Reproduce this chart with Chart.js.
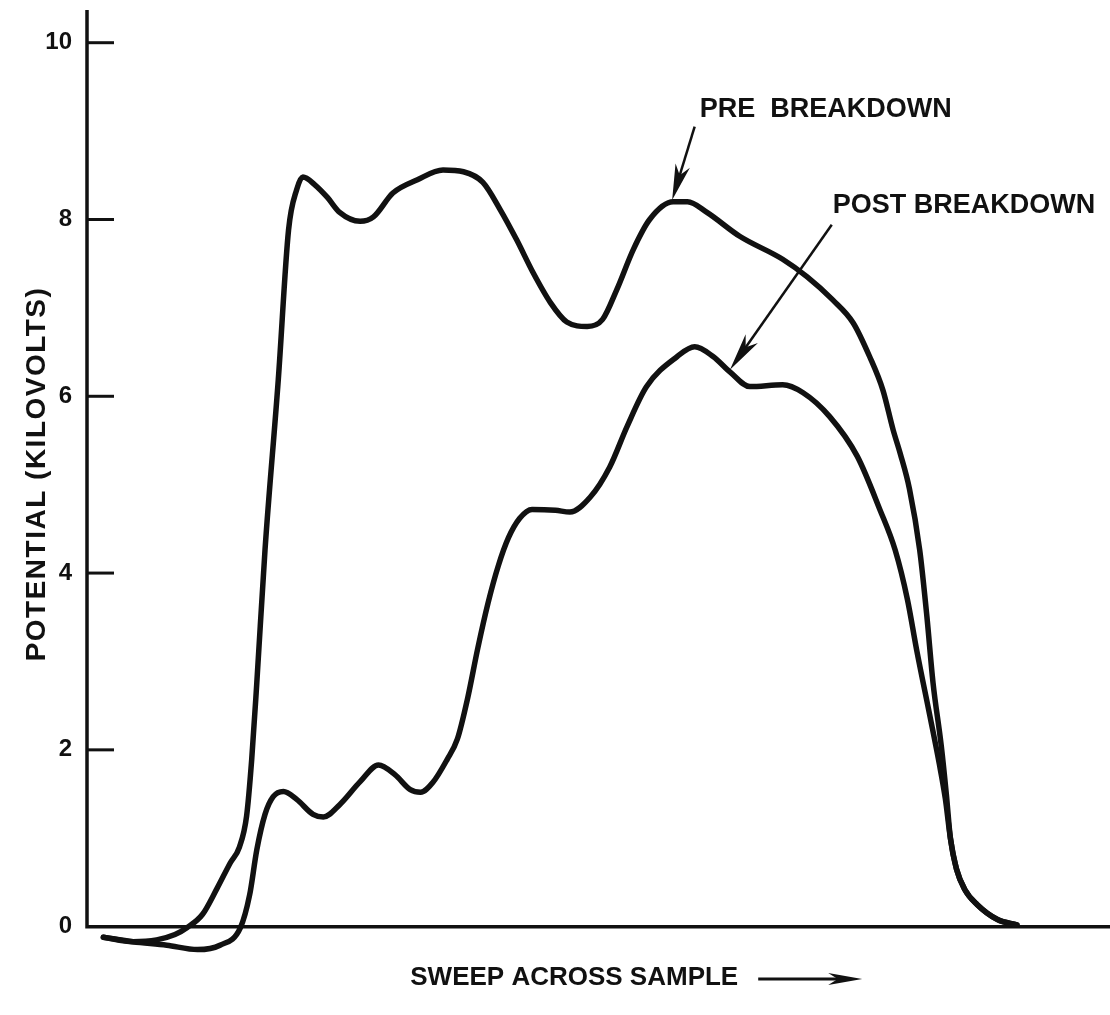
<!DOCTYPE html>
<html>
<head>
<meta charset="utf-8">
<title>Potential sweep across sample</title>
<script src="https://cdn.jsdelivr.net/npm/chart.js@4.4.0/dist/chart.umd.min.js"></script>
<style>
  html, body { margin: 0; padding: 0; background: #fff; }
  #chart { display: block; }
</style>
</head>
<body>
<canvas id="chart" width="1110" height="1015"></canvas>
<script>
// Sweep position (arbitrary units 0-100) against potential in kV
const preX = [1.6, 4.5, 6.8, 8.6, 9.8, 11.3, 12.7, 14.0, 14.9, 15.6, 16.1, 16.6, 17.4, 18.7, 19.7, 20.5, 21.1, 22.3, 23.5, 24.7,
  26.7, 28.0, 29.9, 32.3, 34.8, 36.8, 38.7, 40.4, 42.0, 43.6, 45.3, 46.9, 48.9, 50.4, 51.8, 53.4, 55.0, 57.3, 58.7, 60.6,
  63.8, 68.0, 70.4, 72.9, 74.9, 76.5, 77.8, 78.8, 79.5, 80.4, 81.4, 82.1, 82.7, 83.5, 84.0, 84.4, 85.0, 85.8, 87.0, 89.0, 90.9];
const preY = [-0.12, -0.17, -0.15, -0.09, -0.01, 0.14, 0.43, 0.72, 0.90, 1.25, 1.89, 2.76, 4.26, 6.19, 7.88, 8.34, 8.48, 8.39, 8.25, 8.08,
  7.98, 8.03, 8.30, 8.45, 8.56, 8.54, 8.42, 8.11, 7.77, 7.40, 7.06, 6.84, 6.79, 6.87, 7.21, 7.66, 8.00, 8.20, 8.20, 8.08,
  7.81, 7.55, 7.35, 7.09, 6.83, 6.45, 6.07, 5.62, 5.35, 4.95, 4.26, 3.51, 2.76, 2.05, 1.50, 1.00, 0.65, 0.42, 0.25, 0.08, 0.02];

const postX = [1.6, 4.5, 7.8, 10.8, 13.0, 15.0, 15.9, 16.6, 17.4, 18.2, 19.2, 20.5, 22.1, 23.1, 24.7, 26.7, 28.5, 30.1, 31.6, 32.6,
  33.8, 35.2, 36.2, 37.2, 38.2, 39.2, 40.2, 41.2, 42.3, 43.5, 45.8, 47.2, 49.2, 51.1, 52.8, 54.7, 57.7, 59.4, 61.2, 62.9,
  64.8, 68.0, 70.0, 72.6, 75.3, 77.5, 79.0, 80.2, 81.1, 82.4, 83.3, 83.9, 84.4, 85.0, 85.8, 87.0, 89.0, 90.9];
const postY = [-0.12, -0.17, -0.21, -0.26, -0.21, -0.01, 0.36, 0.87, 1.27, 1.47, 1.53, 1.44, 1.27, 1.24, 1.38, 1.64, 1.83, 1.72, 1.55, 1.52,
  1.63, 1.89, 2.12, 2.58, 3.15, 3.66, 4.08, 4.40, 4.62, 4.72, 4.71, 4.69, 4.86, 5.20, 5.66, 6.11, 6.45, 6.56, 6.45, 6.27,
  6.11, 6.13, 6.04, 5.77, 5.32, 4.72, 4.26, 3.70, 3.13, 2.38, 1.85, 1.45, 1.00, 0.65, 0.42, 0.25, 0.08, 0.02];

const yTicks = [0, 2, 4, 6, 8, 10];

const FONT = '"Liberation Sans", Arial, Helvetica, sans-serif';
const INK = '#111';

function toPoints(xs, ys) {
  return xs.map((x, i) => ({ x: x, y: ys[i] }));
}

// straight shaft with a filled, slightly notched head at (x2, y2)
function drawArrow(ctx, x1, y1, x2, y2, head, half, width) {
  const a = Math.atan2(y2 - y1, x2 - x1);
  const c = Math.cos(a), s = Math.sin(a);
  ctx.lineWidth = width;
  ctx.beginPath();
  ctx.moveTo(x1, y1);
  ctx.lineTo(x2 - c * head * 0.7, y2 - s * head * 0.7);
  ctx.stroke();
  ctx.beginPath();
  ctx.moveTo(x2, y2);
  ctx.lineTo(x2 - c * head - s * half, y2 - s * head + c * half);
  ctx.lineTo(x2 - c * head * 0.72, y2 - s * head * 0.72);
  ctx.lineTo(x2 - c * head + s * half, y2 - s * head - c * half);
  ctx.closePath();
  ctx.fill();
}

const sketchAxes = {
  id: 'sketchAxes',
  beforeDatasetsDraw(chart) {
    const { ctx, chartArea, scales: { y } } = chart;
    const y0 = y.getPixelForValue(0);
    ctx.save();
    ctx.strokeStyle = INK;
    ctx.lineCap = 'butt';
    // axis lines
    ctx.lineWidth = 3.5;
    ctx.beginPath();
    ctx.moveTo(chartArea.left, chartArea.top);
    ctx.lineTo(chartArea.left, y0);
    ctx.lineTo(chartArea.right, y0);
    ctx.stroke();
    // inward tick marks
    ctx.lineWidth = 3;
    yTicks.forEach(v => {
      if (v === 0) return;
      const py = y.getPixelForValue(v);
      ctx.beginPath();
      ctx.moveTo(chartArea.left, py);
      ctx.lineTo(chartArea.left + 27, py);
      ctx.stroke();
    });
    ctx.restore();
  },
  afterDatasetsDraw(chart) {
    const { ctx, chartArea, scales: { x, y } } = chart;
    ctx.save();
    ctx.fillStyle = INK;
    ctx.strokeStyle = INK;
    ctx.font = 'bold 27px ' + FONT;
    ctx.textBaseline = 'middle';
    ctx.textAlign = 'left';

    // curve labels with pointer arrows
    ctx.fillText('PRE  BREAKDOWN', x.getPixelForValue(59.9), y.getPixelForValue(9.24));
    drawArrow(ctx, x.getPixelForValue(59.4), y.getPixelForValue(9.05),
      x.getPixelForValue(57.2), y.getPixelForValue(8.22), 36, 7.5, 2.5);
    ctx.fillText('POST BREAKDOWN', x.getPixelForValue(72.9), y.getPixelForValue(8.16));
    drawArrow(ctx, x.getPixelForValue(72.8), y.getPixelForValue(7.94),
      x.getPixelForValue(62.85), y.getPixelForValue(6.30), 38, 7.5, 2.5);

    // x axis title with direction arrow
    ctx.font = 'bold 26px ' + FONT;
    const tx = x.getPixelForValue(31.6);
    const ty = chartArea.bottom + 16;
    ctx.fillText('SWEEP ACROSS SAMPLE', tx, ty);
    const tw = ctx.measureText('SWEEP ACROSS SAMPLE').width;
    drawArrow(ctx, tx + tw + 20, ty + 1, tx + tw + 124, ty + 1, 34, 6, 3);

    // y axis title
    ctx.translate(chartArea.left - 50, (chartArea.top + chartArea.bottom) / 2 - 12);
    ctx.rotate(-Math.PI / 2);
    ctx.textAlign = 'center';
    ctx.font = 'bold 28px ' + FONT;
    ctx.letterSpacing = '1.5px';
    ctx.fillText('POTENTIAL (KILOVOLTS)', 0, 0);
    ctx.restore();
  }
};

new Chart(document.getElementById('chart'), {
  type: 'line',
  data: {
    datasets: [
      { label: 'Pre breakdown', data: toPoints(preX, preY) },
      { label: 'Post breakdown', data: toPoints(postX, postY) }
    ]
  },
  options: {
    responsive: false,
    animation: false,
    devicePixelRatio: 1,
    layout: { padding: { top: 10, right: 0, bottom: 0, left: 0 } },
    plugins: {
      legend: { display: false },
      tooltip: { enabled: false }
    },
    elements: {
      point: { radius: 0 },
      line: {
        borderWidth: 5.5,
        borderColor: INK,
        cubicInterpolationMode: 'monotone',
        borderCapStyle: 'round',
        borderJoinStyle: 'round',
        fill: false
      }
    },
    scales: {
      x: {
        type: 'linear',
        min: 0,
        max: 100,
        grid: { display: false, drawTicks: false },
        border: { display: false },
        ticks: { display: false },
        afterFit: s => { s.height = 53; s.paddingLeft = 0; s.paddingRight = 0; }
      },
      y: {
        min: -0.4,
        max: 10.37,
        grid: { display: false, drawTicks: false },
        border: { display: false },
        afterBuildTicks: s => { s.ticks = yTicks.map(v => ({ value: v })); },
        ticks: {
          padding: 15,
          color: INK,
          font: { family: FONT, size: 24, weight: 'bold' }
        },
        afterFit: s => { s.width = 87; s.paddingTop = 0; s.paddingBottom = 0; }
      }
    }
  },
  plugins: [sketchAxes]
});
</script>
</body>
</html>
